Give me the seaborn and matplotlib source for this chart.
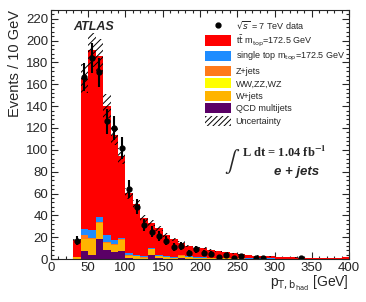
import numpy as np
import pandas as pd
import seaborn as sns
import matplotlib.pyplot as plt
from matplotlib.patches import Patch
from matplotlib.lines import Line2D
from matplotlib.ticker import MultipleLocator

# bin edges of p_T,b_had (GeV), 10 GeV bins from 30 to 400
edges = np.arange(30, 401, 10)
centers = edges[:-1] + 5

# stacked MC contributions per bin, bottom to top
qcd = [0.5, 7.5, 3.7, 18, 8, 6.7, 7.3, 1, 0.5, 0.3, 3.7, 1, 0.5, 0.3, 1, 0.5, 0.3,
       0.3, 0.3, 0.2, 0.2, 0.2, 0.2, 0.1, 0.1, 0.1, 0.1, 0.1, 0.1, 0.1, 0.1, 0.1, 0.1, 0.1, 0.1, 0.1, 0.1]
wjets = [1, 10.5, 14.3, 15, 6.7, 6.3, 10, 2, 2, 1, 5.3, 1.5, 1, 0.5, 2, 1, 0.5,
         0.5, 0.5, 0.3, 0.5, 0.3, 0.3, 0.2, 0.2, 0.2, 0.2, 0.2, 0.1, 0.1, 0.1, 0.1, 0.1, 0.1, 0.1, 0.1, 0.1]
diboson = [0, 0.2, 0.2, 0.3, 0.2, 0.2, 0.2, 0.1, 0.1, 0.1, 0.1, 0.1, 0.1, 0.1, 0.1, 0.1, 0.1,
           0, 0, 0, 0, 0, 0, 0, 0, 0, 0, 0, 0, 0, 0, 0, 0, 0, 0, 0, 0]
zjets = [0.3, 3.5, 1.5, 0.3, 1, 0.5, 0.5, 0.5, 0.3, 0.3, 0.5, 0.3, 0.3, 0.3, 0.3, 0.2, 0.2,
         0.2, 0.2, 0.2, 0.2, 0.2, 0.2, 0.1, 0.1, 0.1, 0.1, 0.1, 0.1, 0.1, 0.1, 0.1, 0.1, 0.1, 0.1, 0.1, 0.1]
singletop = [0.5, 5.5, 6.5, 5, 6.3, 3.5, 1.7, 2, 1.2, 1, 0.7, 1.2, 1, 0.8, 0.7, 0.6, 0.5,
             0.5, 0.4, 0.4, 0.3, 0.3, 0.3, 0.2, 0.2, 0.2, 0.2, 0.1, 0.1, 0.1, 0.1, 0.1, 0.1, 0.1, 0.1, 0.1, 0.1]
ttbar = [15, 138, 165, 147.5, 118, 96, 74.5, 54.5, 46, 34.5, 23, 24, 19, 16, 11, 9.7, 9,
         8.5, 7, 6, 5, 4.3, 3.5, 3, 2.5, 2, 1.8, 1.5, 1.3, 1.1, 1.0, 0.9, 0.8, 0.7, 0.6, 0.6, 1.5]

# observed events
data = [17, 167, 184, 171, 126, 120, 102, 64, 48, 31, 25, 21, 17, 11, 12, 6, 9,
        6, 5, 2, 4, 1, 3, 0, 1, 1, 0, 0, 0, 0, 1, 0, 0, 0, 0, 0, 0]

rel_unc = 0.08

processes = ["ttbar", "single top", "Z+jets", "WW,ZZ,WZ", "W+jets", "QCD multijets"]
colors = ["#ff0000", "#1e8cff", "#ff7a1a", "#ffff00", "#ffb400", "#5a0066"]
series = [ttbar, singletop, zjets, diboson, wjets, qcd]

rows = []
for name, vals in zip(processes, series):
    for c, v in zip(centers, vals):
        rows.append([c, v, name])
df = pd.DataFrame(rows, columns=["pt", "events", "process"])

sns.set_style("ticks")
plt.rcParams["font.family"] = ["Liberation Sans", "DejaVu Sans"]
plt.rcParams["hatch.linewidth"] = 0.7

fig = plt.figure(figsize=(3.66, 3.02), dpi=100)
ax = fig.add_axes([0.139, 0.142, 0.815, 0.825])

sns.histplot(df, x="pt", weights="events", hue="process", hue_order=processes,
             palette=colors, multiple="stack", bins=list(edges), element="step",
             fill=True, alpha=1, linewidth=0, legend=False, ax=ax)

# uncertainty band on the total
total = np.sum(np.array(series), axis=0)
ax.bar(edges[:-1], 2 * rel_unc * total, bottom=total * (1 - rel_unc), width=10,
       align="edge", fill=False, hatch="/////", linewidth=0, edgecolor="black")

# data points
data = np.array(data, dtype=float)
mask = data > 0
ax.errorbar(centers[mask], data[mask], yerr=np.sqrt(data[mask]), fmt="o",
            color="black", ms=3.5, elinewidth=1.5, capsize=0)

ax.set_xlim(0, 400)
ax.set_ylim(0, 228)
ax.xaxis.set_major_locator(MultipleLocator(50))
ax.xaxis.set_minor_locator(MultipleLocator(10))
ax.yaxis.set_major_locator(MultipleLocator(20))
ax.yaxis.set_minor_locator(MultipleLocator(4))
ax.tick_params(which="both", direction="in", top=True, right=True, labelsize=9.5, pad=2)
ax.tick_params(which="major", length=5, width=0.8)
ax.tick_params(which="minor", length=2.5, width=0.8)
for s in ax.spines.values():
    s.set_linewidth(0.8)

ax.set_xlabel(r"p$_{\mathrm{T,b_{had}}}$ [GeV]", fontsize=10, loc="right", labelpad=0)
ax.set_ylabel("Events / 10 GeV", fontsize=10.5, loc="top", labelpad=3)

ax.text(0.074, 0.932, "ATLAS", transform=ax.transAxes, fontsize=9,
        fontweight="bold", fontstyle="italic", va="center")

# legend
handles = [Line2D([], [], marker="o", color="black", ls="none", ms=3.5)]
handles += [Patch(facecolor=c, edgecolor="none") for c in colors]
handles.append(Patch(facecolor="white", edgecolor="black", hatch="//////", linewidth=0))
labels = [r"$\sqrt{s}$ = 7 TeV data",
          r"t$\bar{\mathrm{t}}$ m$_{\mathrm{top}}$=172.5 GeV",
          r"single top m$_{\mathrm{top}}$=172.5 GeV",
          "Z+jets", "WW,ZZ,WZ", "W+jets", "QCD multijets", "Uncertainty"]
ax.legend(handles, labels, loc="upper left", bbox_to_anchor=(0.56, 0.937),
          bbox_transform=fig.transFigure, frameon=False, fontsize=6.5,
          handlelength=2.9, handleheight=1.35, labelspacing=0.26,
          handletextpad=0.5, borderpad=0, borderaxespad=0)

ax.text(0.607, 0.39, r"$\int$", transform=ax.transAxes, fontsize=16,
        va="center", ha="center", math_fontfamily="stix")
ax.text(0.64, 0.43, r"L dt = 1.04 fb$^{\mathbf{-1}}$", transform=ax.transAxes,
        fontsize=9, family="Liberation Serif", fontweight="bold", va="center",
        math_fontfamily="stix")
ax.text(0.825, 0.35, "e + jets", transform=ax.transAxes, fontsize=9.5,
        fontweight="bold", fontstyle="italic", va="center", ha="center")

fig.savefig("out.png", dpi=100)
